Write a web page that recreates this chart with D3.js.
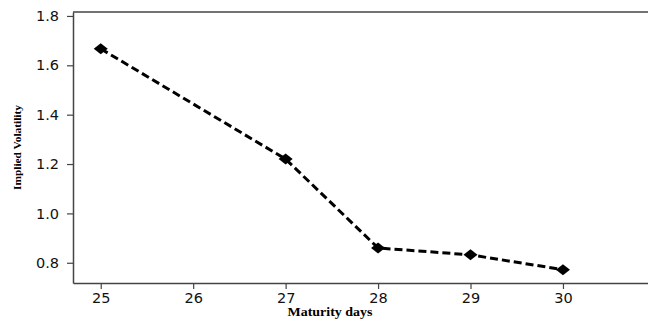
<!DOCTYPE html>
<html>
<head>
<meta charset="utf-8">
<script src="https://cdn.jsdelivr.net/npm/d3@7"></script>
<style>
  body { margin: 0; background: #fff; }
</style>
</head>
<body>
<div id="chart"></div>
<script>
// data
const days = [25, 27, 28, 29, 30];
const vols = [1.667, 1.22, 0.86, 0.832, 0.772];
const xTicks = [25, 26, 27, 28, 29, 30];
const yTicks = [0.8, 1.0, 1.2, 1.4, 1.6, 1.8];

const W = 648, H = 321;
const margin = { top: 12, right: 0, bottom: 38, left: 73 };

const svg = d3.select("#chart")
    .append("svg")
    .attr("width", W)
    .attr("height", H);

const x = d3.scaleLinear()
    .domain([24.7, 30.92])
    .range([margin.left, W - margin.right]);

const y = d3.scaleLinear()
    .domain([0.718, 1.816])
    .range([H - margin.bottom, margin.top]);

const axisColor = "#444";

// axes
const xAxis = svg.append("g")
    .attr("transform", `translate(0,${H - margin.bottom})`)
    .call(d3.axisBottom(x).tickValues(xTicks).tickSize(6).tickSizeOuter(0).tickPadding(4).tickFormat(d3.format("d")));

const yAxis = svg.append("g")
    .attr("transform", `translate(${margin.left},0)`)
    .call(d3.axisLeft(y).tickValues(yTicks).tickSize(6).tickSizeOuter(0).tickPadding(8).tickFormat(d3.format(".1f")));

[xAxis, yAxis].forEach(g => {
    g.attr("font-size", null);
    g.select(".domain").attr("stroke", axisColor).attr("stroke-width", 1.5);
    g.selectAll(".tick line").attr("stroke", axisColor).attr("stroke-width", 1.2);
    g.selectAll(".tick text")
        .attr("fill", "#111")
        .style("font-family", "DejaVu Sans")
        .style("font-size", "14.5px");
});

// top border line
svg.append("line")
    .attr("x1", margin.left)
    .attr("x2", W)
    .attr("y1", margin.top)
    .attr("y2", margin.top)
    .attr("stroke", axisColor)
    .attr("stroke-width", 1.5);

// labels
svg.append("text")
    .attr("text-anchor", "middle")
    .attr("x", 330)
    .attr("y", 316)
    .style("font-family", "Liberation Serif")
    .style("font-weight", "bold")
    .style("font-size", "13px")
    .attr("textLength", 85)
    .attr("lengthAdjust", "spacingAndGlyphs")
    .text("Maturity days");

svg.append("text")
    .attr("text-anchor", "middle")
    .attr("transform", "rotate(-90)")
    .attr("x", -((H - margin.bottom + margin.top) / 2))
    .attr("y", 21)
    .style("font-family", "Liberation Serif")
    .style("font-weight", "bold")
    .style("font-size", "11px")
    .attr("textLength", 85)
    .attr("lengthAdjust", "spacingAndGlyphs")
    .text("Implied Volatility");

// line
const pts = days.map((d, i) => [d, vols[i]]);

svg.append("path")
    .datum(pts)
    .attr("fill", "none")
    .attr("stroke", "#000")
    .attr("stroke-width", 3)
    .attr("stroke-dasharray", "8,4")
    .attr("d", d3.line().x(d => x(d[0])).y(d => y(d[1])));

// diamond markers
svg.selectAll(".pt")
    .data(pts)
    .enter()
    .append("path")
    .attr("class", "pt")
    .attr("transform", d => `translate(${x(d[0])},${y(d[1])})`)
    .attr("d", "M-7,0 L0,-5.5 L7,0 L0,5.5 Z")
    .attr("fill", "#000");
</script>
</body>
</html>
